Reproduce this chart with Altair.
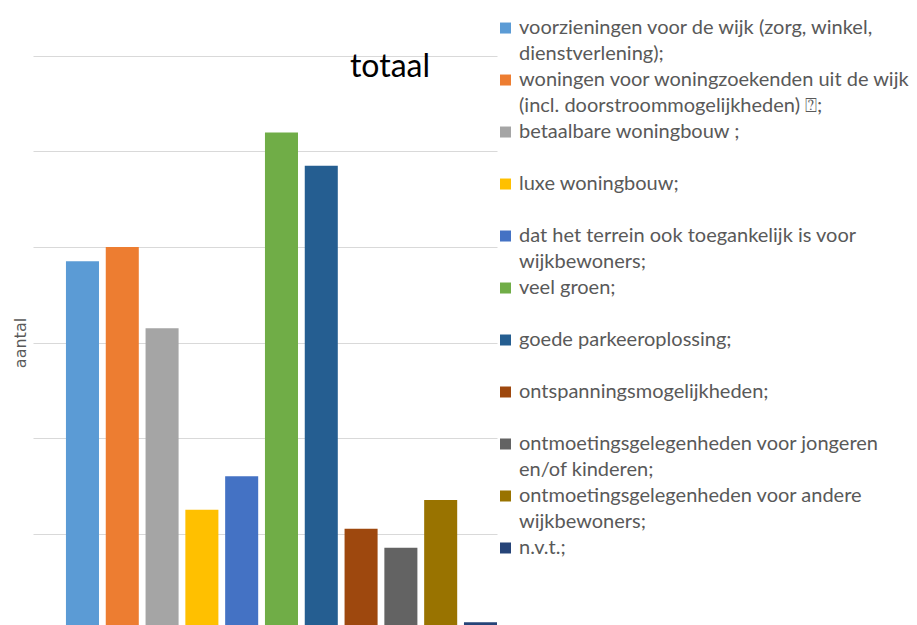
import altair as alt
import pandas as pd

categories = [
    "voorzieningen voor de wijk (zorg, winkel, dienstverlening);",
    "woningen voor woningzoekenden uit de wijk (incl. doorstroommogelijkheden) \u2370;",
    "betaalbare woningbouw ;",
    "luxe woningbouw;",
    "dat het terrein ook toegankelijk is voor wijkbewoners;",
    "veel groen;",
    "goede parkeeroplossing;",
    "ontspanningsmogelijkheden;",
    "ontmoetingsgelegenheden voor jongeren en/of kinderen;",
    "ontmoetingsgelegenheden voor andere wijkbewoners;",
    "n.v.t.;",
]
legend_labels = [
    "voorzieningen voor de wijk (zorg, winkel,\ndienstverlening);",
    "woningen voor woningzoekenden uit de wijk\n(incl. doorstroommogelijkheden) \u2370;",
    "betaalbare woningbouw ;",
    "luxe woningbouw;",
    "dat het terrein ook toegankelijk is voor\nwijkbewoners;",
    "veel groen;",
    "goede parkeeroplossing;",
    "ontspanningsmogelijkheden;",
    "ontmoetingsgelegenheden voor jongeren\nen/of kinderen;",
    "ontmoetingsgelegenheden voor andere\nwijkbewoners;",
    "n.v.t.;",
]
values = [77, 80, 63, 25, 32, 104, 97, 21, 17, 27, 1.4]
colors = ["#5B9BD5", "#ED7D31", "#A5A5A5", "#FFC000", "#4472C4", "#70AD47",
          "#255E91", "#9E480E", "#636363", "#997300", "#264478"]
grid_values = [20, 40, 60, 80, 100, 120]

df = pd.DataFrame({
    "categorie": categories,
    "label": legend_labels,
    "aantal": values,
    "idx": list(range(len(categories))),
})

color_scale = alt.Scale(domain=categories, range=colors)

bars = alt.Chart(df).mark_bar().encode(
    x=alt.X("categorie:N", sort=categories, axis=None,
            scale=alt.Scale(paddingInner=0.17, paddingOuter=0.414, align=1)),
    y=alt.Y("aantal:Q", title="aantal",
            scale=alt.Scale(domain=[0, 120], nice=False),
            axis=alt.Axis(values=grid_values, labels=False, ticks=False, domain=False,
                          gridColor="#D9D9D9", gridWidth=1,
                          titleColor="#595959", titleFont="DejaVu Sans",
                          titleFontSize=16, titleFontWeight="normal",
                          titleX=-13, titleBaseline="middle")),
    color=alt.Color("categorie:N", scale=color_scale, legend=None),
)

legend_y = alt.Y("idx:Q", axis=None,
                 scale=alt.Scale(domain=[0.788, 11.808], reverse=True, nice=False, zero=False))

legend_sym = alt.Chart(df).mark_square(size=121, opacity=1, yOffset=13).encode(
    x=alt.value(472.5),
    y=legend_y,
    color=alt.Color("categorie:N", scale=color_scale, legend=None),
)

legend_txt = alt.Chart(df).mark_text(
    align="left", baseline="line-top", lineBreak="\n", lineHeight=26,
    font="Lato", fontSize=20, color="#595959",
).encode(
    x=alt.value(486),
    y=legend_y,
    text="label:N",
)

chart = alt.layer(bars, legend_sym, legend_txt).resolve_scale(y="independent").properties(
    width=464,
    height=573,
    autosize=alt.AutoSizeParams(type="none"),
    padding={"left": 25, "top": 48, "right": 412, "bottom": 0},
    title=alt.TitleParams("totaal", anchor="middle", dx=125, dy=91, offset=0,
                          baseline="alphabetic", font="Lato", fontSize=32,
                          fontWeight="normal", color="#000000"),
).configure_view(stroke=None)

chart.save("out.html", embed_options={"renderer": "svg", "actions": False})
